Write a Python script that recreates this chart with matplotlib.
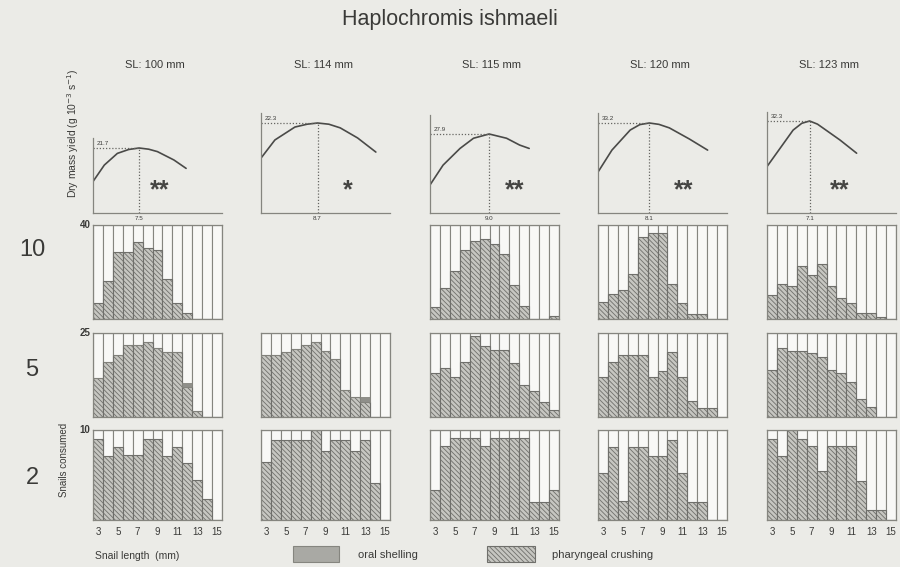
import matplotlib
matplotlib.use("Agg")
import matplotlib.pyplot as plt

plt.rcParams['font.family'] = ['Liberation Sans', 'DejaVu Sans']
plt.rcParams['hatch.linewidth'] = 0.6

# ---------------- data ----------------
title = "Haplochromis ishmaeli"
sl_labels = ["SL: 100 mm", "SL: 114 mm", "SL: 115 mm", "SL: 120 mm", "SL: 123 mm"]
peak_values = [21.7, 22.3, 27.9, 33.2, 32.3]
peak_lengths = [7.5, 8.7, 9.0, 8.1, 7.1]
significance = ["**", "*", "**", "**", "**"]

curve_x_c1 = [2.2, 3.5, 5.0, 6.3, 7.5, 8.6, 9.6, 11.5, 12.9]
curve_y_c1 = [10.5, 16.0, 19.9, 21.2, 21.7, 21.3, 20.5, 17.7, 14.9]
curve_x_c2 = [2.2, 3.8, 6.1, 7.5, 8.7, 10.0, 11.3, 13.3, 15.4]
curve_y_c2 = [13.6, 18.1, 21.3, 22.0, 22.3, 22.0, 21.1, 18.6, 15.1]
curve_x_c3 = [2.2, 3.7, 5.65, 7.2, 9.0, 11.0, 12.5, 13.6]
curve_y_c3 = [9.9, 16.9, 22.8, 26.4, 27.9, 26.4, 24.0, 22.8]
curve_x_c4 = [2.2, 3.8, 5.9, 7.0, 8.1, 9.2, 10.4, 12.7, 14.8]
curve_y_c4 = [15.1, 23.2, 30.6, 32.6, 33.2, 32.7, 31.4, 27.3, 23.2]
curve_x_c5 = [2.2, 3.7, 5.2, 6.2, 7.1, 8.0, 8.7, 10.6, 12.5]
curve_y_c5 = [16.3, 22.7, 29.1, 31.5, 32.3, 31.2, 29.7, 25.6, 21.0]

snail_lengths = [3, 4, 5, 6, 7, 8, 9, 10, 11, 12, 13, 14, 15]
tick_lengths = [3, 5, 7, 9, 11, 13, 15]
density_labels = ["10", "5", "2"]
row_ymax = [40, 25, 10]

# pharyngeal crushing (hatched), density 10
crush_10_c1 = [6.8, 16.3, 28.4, 28.4, 32.9, 30.4, 29.4, 17.0, 6.8, 2.5, 0, 0, 0]
crush_10_c3 = [4.9, 13.3, 20.6, 29.5, 33.0, 34.1, 31.9, 27.6, 14.5, 5.6, 0, 0, 1.4]
crush_10_c4 = [7.4, 10.8, 12.4, 19.0, 34.7, 36.5, 36.5, 14.7, 7.0, 2.1, 2.1, 0, 0]
crush_10_c5 = [10.1, 15.1, 14.0, 22.4, 18.6, 23.5, 14.1, 9.0, 6.6, 2.4, 2.7, 1.0, 0]
# density 5
crush_5_c1 = [11.7, 16.5, 18.5, 21.5, 21.5, 22.3, 20.5, 19.3, 19.3, 9.0, 1.7, 0, 0]
crush_5_c2 = [18.4, 18.6, 19.2, 20.3, 21.3, 22.2, 19.5, 17.3, 7.9, 5.9, 4.4, 0, 0]
crush_5_c3 = [13.0, 14.5, 11.8, 16.5, 24.0, 21.1, 19.9, 19.9, 16.2, 9.6, 7.8, 4.6, 2.2]
crush_5_c4 = [12.0, 16.4, 18.4, 18.4, 18.4, 11.8, 13.8, 19.2, 12.0, 4.8, 2.7, 2.7, 0]
crush_5_c5 = [14.0, 20.4, 19.6, 19.6, 18.9, 17.8, 14.0, 13.0, 10.3, 5.4, 2.9, 0, 0]
# density 2
crush_2_c1 = [9.0, 7.1, 8.1, 7.2, 7.2, 9.0, 9.0, 7.1, 8.1, 6.3, 4.4, 2.3, 0]
crush_2_c2 = [6.4, 8.9, 8.9, 8.9, 8.9, 10.0, 7.7, 8.9, 8.9, 7.7, 8.9, 4.1, 0]
crush_2_c3 = [3.3, 8.2, 9.1, 9.1, 9.1, 8.2, 9.1, 9.1, 9.1, 9.1, 2.0, 2.0, 3.3]
crush_2_c4 = [5.2, 8.1, 2.1, 8.1, 8.1, 7.1, 7.1, 8.9, 5.2, 2.0, 2.0, 0, 0]
crush_2_c5 = [9.0, 7.1, 10.0, 9.0, 8.2, 5.4, 8.2, 8.2, 8.2, 4.3, 1.1, 1.1, 0]

# oral shelling (dark grey, on top of the hatched part)
oral_5_c1 = [0, 0, 0, 0, 0, 0, 0, 0, 0, 1.0, 0, 0, 0]
oral_5_c2 = [0, 0, 0, 0, 0, 0, 0, 0, 0, 0, 1.5, 0, 0]

crush_rows = [
    [crush_10_c1, None, crush_10_c3, crush_10_c4, crush_10_c5],
    [crush_5_c1, crush_5_c2, crush_5_c3, crush_5_c4, crush_5_c5],
    [crush_2_c1, crush_2_c2, crush_2_c3, crush_2_c4, crush_2_c5],
]
oral_rows = [
    [None, None, None, None, None],
    [oral_5_c1, oral_5_c2, None, None, None],
    [None, None, None, None, None],
]
curves = [(curve_x_c1, curve_y_c1), (curve_x_c2, curve_y_c2), (curve_x_c3, curve_y_c3),
          (curve_x_c4, curve_y_c4), (curve_x_c5, curve_y_c5)]

# ---------------- layout / style ----------------
W, H = 900, 567
BG = '#ebebe7'
EDGE = '#85857f'
TXT = '#3a3a38'
WHITE = '#f8f8f6'
HFACE = '#c6c6c1'
HEDGE = '#6f6f6b'
ORAL = '#8f8f8a'
HATCH = '\\\\\\\\\\\\\\'

col_left = [93, 261, 430, 598, 767]
panel_w = 129
row_px = [(225, 319), (333, 417), (430, 520)]
top_px = (110, 213)
peak_px = [148, 123, 134, 123, 121]
spine_top_px = [138, 113, 115, 113, 112]
star_px = [(160, 190), (348, 190), (515, 190), (684, 190), (840, 190)]


def box(x0, y0, x1, y1):
    return [x0 / W, 1 - y1 / H, (x1 - x0) / W, (y1 - y0) / H]


fig = plt.figure(figsize=(9, 5.67), dpi=100, facecolor=BG)

fig.text(450 / W, 1 - 19 / H, title, ha='center', va='center', fontsize=15.5, color=TXT)

x_top_min = 2.2
x_top_max = 2.2 + panel_w / 8.7

for c in range(5):
    xl = col_left[c]
    # ---- top panel: dry mass yield curve ----
    ax = fig.add_axes(box(xl, top_px[0], xl + panel_w, top_px[1]))
    ax.set_facecolor('none')
    span = top_px[1] - top_px[0]
    ytop = peak_values[c] * span / (top_px[1] - peak_px[c])
    ax.set_ylim(0, ytop)
    ax.set_xlim(x_top_min, x_top_max)
    for s in ['top', 'right']:
        ax.spines[s].set_visible(False)
    for s in ['left', 'bottom']:
        ax.spines[s].set_color(EDGE)
        ax.spines[s].set_linewidth(0.9)
    ax.spines['left'].set_bounds(0, (top_px[1] - spine_top_px[c]) / span * ytop)
    ax.set_xticks([])
    ax.set_yticks([])
    cx, cy = curves[c]
    ax.plot(cx, cy, color='#4a4a48', lw=1.2, solid_capstyle='round')
    ax.plot([peak_lengths[c], peak_lengths[c]], [0, peak_values[c]], ls=(0, (1, 1.5)),
            color='#666662', lw=0.9)
    ax.plot([x_top_min, peak_lengths[c]], [peak_values[c], peak_values[c]], ls=(0, (1, 1.5)),
            color='#666662', lw=0.9)
    ax.text(x_top_min + 0.4, peak_values[c] + ytop * 0.02, f"{peak_values[c]:.1f}",
            fontsize=4.5, color=TXT, ha='left', va='bottom')
    ax.text(peak_lengths[c], -ytop * 0.03, f"{peak_lengths[c]:.1f}", fontsize=4.5,
            color=TXT, ha='center', va='top', clip_on=False)

    fig.text((xl + 62) / W, 1 - 65 / H, sl_labels[c], ha='center', va='center',
             fontsize=8, color=TXT)
    fig.text(star_px[c][0] / W, 1 - star_px[c][1] / H, significance[c], ha='center',
             va='center', fontsize=18, fontweight='bold', color='#454543')

    # ---- histograms ----
    for r in range(3):
        crush = crush_rows[r][c]
        if crush is None:
            continue
        y0, y1 = row_px[r]
        ax = fig.add_axes(box(xl, y0, xl + panel_w, y1))
        ax.set_facecolor(WHITE)
        ymax = row_ymax[r]
        ax.bar(snail_lengths, [ymax] * len(snail_lengths), width=1, color=WHITE,
               edgecolor=EDGE, linewidth=0.8)
        ax.bar(snail_lengths, crush, width=1, facecolor=HFACE, edgecolor=HEDGE,
               hatch=HATCH, linewidth=0.8)
        oral = oral_rows[r][c]
        if oral is not None:
            ax.bar(snail_lengths, oral, bottom=crush, width=1, color=ORAL,
                   edgecolor=EDGE, linewidth=0.6)
        ax.set_xlim(snail_lengths[0] - 0.5, snail_lengths[-1] + 0.5)
        ax.set_ylim(0, ymax)
        for s in ax.spines.values():
            s.set_color(EDGE)
            s.set_linewidth(0.9)
        ax.set_yticks([])
        if r == 2:
            ax.set_xticks(tick_lengths)
            ax.set_xticklabels([str(t) for t in tick_lengths], fontsize=7, color=TXT)
            ax.tick_params(axis='x', length=0, pad=5)
        else:
            ax.set_xticks([])
        if c == 0:
            ax.text(-0.02, 1.0, str(ymax), transform=ax.transAxes, ha='right', va='center',
                    fontsize=7, fontweight='bold', color=TXT)

# row (density) labels
for r, lab in enumerate(density_labels):
    y = [250, 370, 478][r]
    fig.text(32 / W, 1 - y / H, lab, ha='center', va='center', fontsize=17, color=TXT)

fig.text(64 / W, 1 - 460 / H, "Snails consumed", rotation=90, ha='center', va='center',
         fontsize=7, color=TXT)
fig.text(73 / W, 1 - 133 / H, "Dry mass yield (g 10$^{-3}$ s$^{-1}$)", rotation=90,
         ha='center', va='center', fontsize=7.5, color=TXT)
fig.text(95 / W, 1 - 556 / H, "Snail length  (mm)", ha='left', va='center', fontsize=7.5,
         color=TXT)

# legend
lax = fig.add_axes([0, 0, 1, 1], facecolor='none')
lax.set_xlim(0, W)
lax.set_ylim(H, 0)
lax.axis('off')
lax.add_patch(plt.Rectangle((293, 546), 46, 16, facecolor='#a9a9a4', edgecolor=EDGE, lw=0.8))
lax.text(358, 555, "oral shelling", ha='left', va='center', fontsize=8, color=TXT)
lax.add_patch(plt.Rectangle((487, 546), 48, 16, facecolor=HFACE, edgecolor=HEDGE,
                            hatch=HATCH, lw=0.8))
lax.text(552, 555, "pharyngeal crushing", ha='left', va='center', fontsize=8, color=TXT)

fig.savefig("out.png", dpi=100, facecolor=BG)
